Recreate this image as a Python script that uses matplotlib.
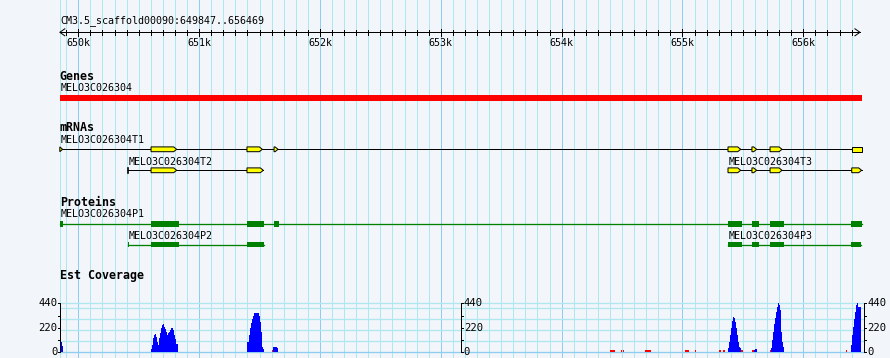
import numpy as np
import matplotlib.pyplot as plt
from matplotlib.patches import Polygon

# Region shown
ref_name = 'CM3.5_scaffold00090'
region_start, region_end = 649847, 656469
view_end = 656486
tick_kb = [650, 651, 652, 653, 654, 655, 656]

# Genes track
gene_name = 'MELO3C026304'
gene_span = (649847, 656486)

# mRNAs track
mrna_names = ['MELO3C026304T1', 'MELO3C026304T2', 'MELO3C026304T3']
mrna_spans = [(649847, 656486), (650409, 651531), (655377, 656483)]
mrna_exons = [
    [(649847, 649870), (650602, 650814), (651396, 651523), (651620, 651653),
     (655377, 655482), (655575, 655614), (655725, 655824), (656401, 656486)],
    [(650602, 650814), (651396, 651531)],
    [(655377, 655482), (655575, 655614), (655725, 655824), (656401, 656483)],
]

# Proteins track
prot_names = ['MELO3C026304P1', 'MELO3C026304P2', 'MELO3C026304P3']
prot_spans = [(649849, 656486), (650409, 651534), (655377, 656480)]
prot_cds = [
    [(649849, 649871), (650602, 650833), (651396, 651534), (651620, 651661),
     (655377, 655493), (655575, 655634), (655725, 655840), (656395, 656486)],
    [(650409, 650420), (650602, 650833), (651396, 651534)],
    [(655377, 655493), (655575, 655634), (655725, 655840), (656395, 656480)],
]

# Est coverage: runs of bins
cov_starts = [649849, 650602, 651396, 651612, 655379, 655589, 655733, 656395]
cov_ends = [649873, 650825, 651537, 651651, 655486, 655619, 655843, 656478]
cov_values = [
    [95, 60],
    [30, 65, 130, 155, 162, 140, 95, 65, 128, 176, 215, 245, 251, 230,
     209, 185, 155, 173, 180, 197, 221, 221, 197, 155, 117, 77, 77],
    [95, 95, 155, 215, 260, 299, 329, 353, 353, 353, 353, 353, 329, 275,
     185, 50, 30],
    [45, 47, 47, 40],
    [35, 95, 155, 215, 281, 317, 310, 269, 215, 155, 95, 50, 35],
    [22, 30, 30],
    [35, 110, 185, 251, 310, 365, 410, 440, 425, 380, 290, 185, 95, 50],
    [65, 155, 230, 299, 365, 425, 440, 410, 410, 410],
]
# low coverage bits (drawn red)
low_starts = [651605, 654400, 654491, 654508, 654690, 655021, 655104, 655302,
              655335, 655485, 655573, 655725, 656353]
low_ends = [651613, 654442, 654496, 654516, 654740, 655054, 655112, 655319,
            655352, 655497, 655589, 655733, 656361]
low_values = [20, 20, 20, 20, 20, 20, 20, 20, 20, 20, 20, 20, 20]

cov_ticks = [0, 220, 440]
cov_minor = [110, 330]
cov_grid = [0, 100, 200, 300, 400, 440]

# layout (pixels)
W, H = 890, 358
PX_650K, PX_PER_KB = 78.3, 120.83
BP_PER_PX = 1000 / PX_PER_KB
BG = '#f2f5fa'
MINOR = '#aee8ee'
MAJOR = '#8ecdf0'
LW = 0.72
FONT = 'DejaVu Sans Mono'
FS = 7.2
FSB = 8.4


def bp(px):
    return 650000 + (px - PX_650K) * BP_PER_PX


fig = plt.figure(figsize=(W / 100, H / 100), dpi=100, facecolor=BG)
ax = fig.add_axes([0, 0, 1, 1])
ax.set_xlim(bp(0), bp(W))
ax.set_ylim(H, 0)
ax.axis('off')

# vertical grid
ax.axvline(region_start, color=MINOR, lw=LW, zorder=0)
for g in np.arange(649900, view_end, 100):
    ax.axvline(g, color=MAJOR if g % 1000 == 0 else MINOR, lw=LW, zorder=0)

# ruler
y_r = 32.3
ax.text(region_start + 0.8 * BP_PER_PX, 21, f'{ref_name}:{region_start}..{region_end}',
        family=FONT, fontsize=FS, va='center', ha='left')
ax.plot([region_start, region_end], [y_r, y_r], color='black', lw=LW)
ah = 5 * BP_PER_PX
ax.plot([region_start + ah, region_start, region_start + ah], [y_r - 3.5, y_r, y_r + 3.5], color='black', lw=LW)
ax.plot([region_end - ah, region_end, region_end - ah], [y_r - 3.5, y_r, y_r + 3.5], color='black', lw=LW)
for g in np.arange(649900, region_end, 100):
    if g % 1000 == 0:
        ax.plot([g, g], [29.3, 35.7], color='black', lw=LW)
    else:
        ax.plot([g, g], [30.3, 34.7], color='black', lw=LW)
for k in tick_kb:
    ax.text(k * 1000, 43, f'{k}k', family=FONT, fontsize=FS, ha='center', va='center')

x_lab = region_start
# Genes
ax.text(x_lab, 76, 'Genes', family=FONT, fontsize=FSB, weight='bold', va='center')
ax.text(x_lab + 0.8 * BP_PER_PX, 88, gene_name, family=FONT, fontsize=FS, va='center')
ax.fill_between(gene_span, 95, 100.7, color='#ff0000', lw=0)

# mRNAs
ax.text(x_lab, 127.5, 'mRNAs', family=FONT, fontsize=FSB, weight='bold', va='center')
mrna_rows = [149.3, 170.3, 170.3]
mrna_label_y = [140, 161.7, 161.7]
tip = 3 * BP_PER_PX
for name, (s0, e0), exons, y, ly in zip(mrna_names, mrna_spans, mrna_exons, mrna_rows, mrna_label_y):
    ax.text(s0 + 0.8 * BP_PER_PX, ly, name, family=FONT, fontsize=FS, va='center')
    ax.plot([s0, e0], [y, y], color='black', lw=LW, zorder=2)
    if exons[0][0] > s0:
        ax.plot([s0, s0], [y - 2.5, y + 2.5], color='black', lw=1.2, zorder=3)
    for s, e in exons:
        h = 2.4
        if e < view_end:
            t = min(tip, e - s)
            pts = [(s, y - h), (e - t, y - h), (e, y), (e - t, y + h), (s, y + h)]
        else:
            pts = [(s, y - h), (e, y - h), (e, y + h), (s, y + h)]
        ax.add_patch(Polygon(pts, closed=True, facecolor='#ffff00', edgecolor='black',
                             lw=LW, zorder=3))

# Proteins
ax.text(x_lab, 202, 'Proteins', family=FONT, fontsize=FSB, weight='bold', va='center')
prot_rows = [223.7, 244.5, 244.5]
prot_label_y = [214, 235.7, 235.7]
for name, (s0, e0), cds, y, ly in zip(prot_names, prot_spans, prot_cds, prot_rows, prot_label_y):
    ax.text(s0 + 0.8 * BP_PER_PX, ly, name, family=FONT, fontsize=FS, va='center')
    ax.plot([s0, e0], [y, y], color='#008000', lw=LW * 1.3, zorder=2)
    for s, e in cds:
        ax.fill_between([s, e], y - 2.9, y + 2.9, color='#008000', lw=0, zorder=3)

# Est Coverage
ax.text(x_lab, 276, 'Est Coverage', family=FONT, fontsize=FSB, weight='bold', va='center')

cov = fig.add_axes([0, (H - 352.3) / H, 1, 49 / H])
cov.set_xlim(bp(0), bp(W))
cov.set_ylim(0, 440)
cov.axis('off')

axis_left, axis_mid, axis_right = bp(60.3), bp(460.7), bp(864)
for v in cov_grid:
    cov.plot([axis_left, axis_right], [v, v], color=MAJOR if v == 0 else MINOR,
             lw=LW * 1.3, zorder=1, clip_on=False)

for s, e, vals in zip(cov_starts, cov_ends, cov_values):
    edges = np.linspace(s, e, len(vals) + 1)
    cov.stairs(vals, edges, fill=True, color='#0000ff', lw=0, zorder=2)
for s, e, v in zip(low_starts, low_ends, low_values):
    cov.bar(s, v, width=e - s, align='edge', color='#ff0000', lw=0, zorder=3)

tk = 2 * BP_PER_PX
for xa, side in [(axis_left, -1), (axis_mid, 1), (axis_right, 1)]:
    cov.plot([xa, xa], [0, 440], color='black', lw=LW, zorder=4, clip_on=False)
    for v in cov_ticks:
        cov.plot([xa, xa + side * tk], [v, v], color='black', lw=LW, zorder=4, clip_on=False)
        cov.text(xa + side * 3 * BP_PER_PX, v, str(v), family=FONT, fontsize=FS + 0.4,
                 ha='right' if side < 0 else 'left', va='center', zorder=4)
    for v in cov_minor:
        cov.plot([xa, xa + side * tk], [v, v], color='black', lw=LW, zorder=4, clip_on=False)

fig.savefig('out.png', dpi=100, facecolor=BG)
